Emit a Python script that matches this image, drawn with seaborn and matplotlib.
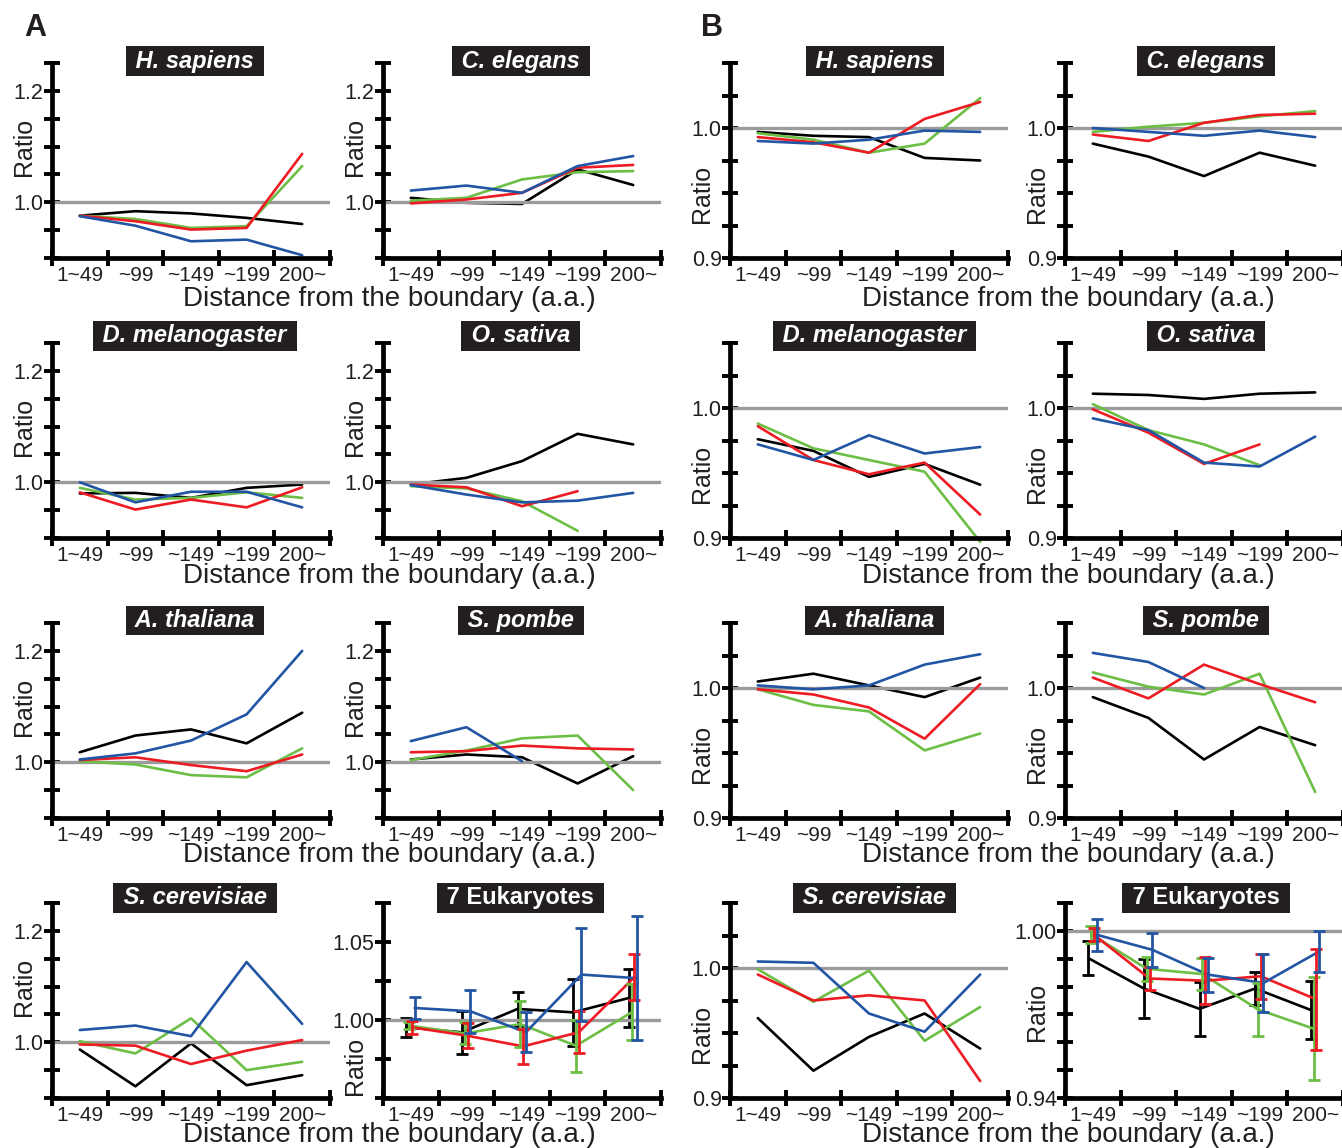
import numpy as np
import pandas as pd
import matplotlib
matplotlib.use("Agg")
import matplotlib.pyplot as plt
import seaborn as sns

NA = np.nan

CATEGORIES = ["1~49", "~99", "~149", "~199", "200~"]
SERIES = ["black", "green", "red", "blue"]
PALETTE = {"black": "#000000", "green": "#6CBE45", "red": "#ED1C24", "blue": "#2255A4"}

# ---------------- Panel A ----------------
A_H_SAPIENS = {
    "black": [0.976, 0.984, 0.980, 0.972, 0.961],
    "green": [0.976, 0.970, 0.954, 0.957, 1.065],
    "red":   [0.976, 0.966, 0.951, 0.954, 1.087],
    "blue":  [0.975, 0.958, 0.930, 0.933, 0.905],
}
A_C_ELEGANS = {
    "black": [1.008, 0.999, 0.997, 1.059, 1.031],
    "green": [1.003, 1.008, 1.041, 1.054, 1.056],
    "red":   [0.998, 1.005, 1.017, 1.062, 1.067],
    "blue":  [1.021, 1.030, 1.017, 1.065, 1.083],
}
A_D_MELANOGASTER = {
    "black": [0.980, 0.981, 0.972, 0.990, 0.996],
    "green": [0.990, 0.969, 0.972, 0.982, 0.972],
    "red":   [0.982, 0.951, 0.969, 0.955, 0.991],
    "blue":  [1.000, 0.964, 0.983, 0.983, 0.955],
}
A_O_SATIVA = {
    "black": [0.996, 1.008, 1.038, 1.087, 1.068],
    "green": [0.993, 0.989, 0.966, 0.913, NA],
    "red":   [0.996, 0.991, 0.957, 0.984, NA],
    "blue":  [0.995, 0.978, 0.964, 0.967, 0.981],
}
A_A_THALIANA = {
    "black": [1.018, 1.048, 1.059, 1.034, 1.089],
    "green": [1.002, 0.996, 0.977, 0.973, 1.025],
    "red":   [1.004, 1.009, 0.995, 0.984, 1.014],
    "blue":  [1.005, 1.016, 1.039, 1.086, 1.200],
}
A_S_POMBE = {
    "black": [1.005, 1.014, 1.009, 0.962, 1.011],
    "green": [1.004, 1.021, 1.043, 1.048, 0.950],
    "red":   [1.018, 1.020, 1.030, 1.025, 1.023],
    "blue":  [1.038, 1.063, 1.002, NA, NA],
}
A_S_CEREVISIAE = {
    "black": [0.987, 0.921, 0.998, 0.923, 0.941],
    "green": [1.002, 0.980, 1.043, 0.950, 0.965],
    "red":   [0.996, 0.994, 0.961, 0.985, 1.004],
    "blue":  [1.022, 1.030, 1.011, 1.144, 1.033],
}
A_EUK_MEAN = {
    "black": [0.9953, 0.9921, 1.0071, 1.0049, 1.0141],
    "green": [0.9964, 0.9914, 0.9974, 0.9835, 1.0049],
    "red":   [0.9953, 0.9899, 0.9831, 0.9921, 1.0274],
    "blue":  [1.0077, 1.0056, 0.9921, 1.0291, 1.0268],
}
A_EUK_ERR = {
    "black": [0.0059, 0.0139, 0.0107, 0.0214, 0.0187],
    "green": [0.0020, 0.0070, 0.0150, 0.0166, 0.0180],
    "red":   [0.0040, 0.0080, 0.0110, 0.0134, 0.0146],
    "blue":  [0.0072, 0.0139, 0.0128, 0.0297, 0.0398],
}

# ---------------- Panel B ----------------
B_H_SAPIENS = {
    "black": [0.997, 0.994, 0.993, 0.977, 0.975],
    "green": [0.996, 0.991, 0.981, 0.988, 1.023],
    "red":   [0.993, 0.989, 0.981, 1.007, 1.020],
    "blue":  [0.990, 0.988, 0.991, 0.998, 0.997],
}
B_C_ELEGANS = {
    "black": [0.988, 0.978, 0.963, 0.981, 0.971],
    "green": [0.997, 1.001, 1.004, 1.009, 1.013],
    "red":   [0.995, 0.990, 1.004, 1.010, 1.011],
    "blue":  [1.000, 0.997, 0.994, 0.998, 0.993],
}
B_D_MELANOGASTER = {
    "black": [0.976, 0.967, 0.947, 0.957, 0.941],
    "green": [0.988, 0.969, 0.960, 0.951, 0.897],
    "red":   [0.986, 0.960, 0.949, 0.958, 0.918],
    "blue":  [0.972, 0.960, 0.979, 0.965, 0.970],
}
B_O_SATIVA = {
    "black": [1.011, 1.010, 1.007, 1.011, 1.012],
    "green": [1.003, 0.983, 0.972, 0.956, NA],
    "red":   [0.999, 0.981, 0.957, 0.972, NA],
    "blue":  [0.992, 0.983, 0.958, 0.955, 0.978],
}
B_A_THALIANA = {
    "black": [1.005, 1.011, 1.002, 0.993, 1.008],
    "green": [0.999, 0.987, 0.982, 0.952, 0.965],
    "red":   [0.999, 0.995, 0.985, 0.961, 1.003],
    "blue":  [1.002, 0.999, 1.002, 1.018, 1.026],
}
B_S_POMBE = {
    "black": [0.993, 0.977, 0.945, 0.970, 0.956],
    "green": [1.012, 1.001, 0.995, 1.011, 0.920],
    "red":   [1.008, 0.992, 1.018, 1.003, 0.989],
    "blue":  [1.027, 1.020, 1.000, NA, NA],
}
B_S_CEREVISIAE = {
    "black": [0.9615, 0.921, 0.947, 0.965, 0.938],
    "green": [0.999, 0.974, 0.998, 0.944, 0.970],
    "red":   [0.995, 0.975, 0.979, 0.975, 0.913],
    "blue":  [1.005, 1.004, 0.965, 0.951, 0.995],
}
B_EUK_MEAN = {
    "black": [0.9902, 0.9793, 0.9720, 0.9793, 0.9716],
    "green": [0.9988, 0.9864, 0.9845, 0.9718, 0.9649],
    "red":   [0.9986, 0.9829, 0.9821, 0.9837, 0.9754],
    "blue":  [0.9986, 0.9932, 0.9843, 0.9813, 0.9926],
}
B_EUK_ERR = {
    "black": [0.0062, 0.0107, 0.0096, 0.0060, 0.0105],
    "green": [0.0030, 0.0043, 0.0057, 0.0094, 0.0186],
    "red":   [0.0024, 0.0040, 0.0084, 0.0080, 0.0180],
    "blue":  [0.0058, 0.0062, 0.0061, 0.0104, 0.0073],
}

TITLES = ["H. sapiens", "C. elegans", "D. melanogaster", "O. sativa",
          "A. thaliana", "S. pombe", "S. cerevisiae", "7 Eukaryotes"]

# ---------------- styling ----------------
sns.set_theme(style="ticks")
plt.rcParams["font.family"] = ["Liberation Sans", "DejaVu Sans"]
TEXT = "#231F20"
GRAY = "#9B9B9B"
DODGE = {"black": -0.08, "green": -0.03, "red": 0.02, "blue": 0.07}

W, H = 1342, 1148
fig = plt.figure(figsize=(W / 100, H / 100), dpi=100)

COL_LEFT = [52, 383, 730, 1065]          # px
ROW_BOTTOM = [258, 538, 818, 1098]       # px
AX_W, AX_H = 278, 195
TITLE_X = [0.514, 0.495, 0.52, 0.507]
TITLE_Y = [1.01, 1.036, 1.012, 1.026]


def make_axes(col, row):
    l = COL_LEFT[col] / W
    b = 1 - ROW_BOTTOM[row] / H
    return fig.add_axes([l, b, AX_W / W, AX_H / H])


def frame(values, dodge=False, errors=None):
    rows = []
    for s in SERIES:
        for i, v in enumerate(values[s]):
            if np.isnan(v):
                continue
            rows.append({"pos": i + 0.5 + (DODGE[s] if dodge else 0.0),
                         "ratio": v, "series": s,
                         "err": errors[s][i] if errors else 0.0})
    return pd.DataFrame(rows)


def style(ax, lo, hi, step, labelled, fmt, label_y):
    ax.set_xlim(0, 5)
    ax.set_ylim(lo, hi)
    ax.set_xticks(range(6))
    ax.set_xticklabels([])
    ax.set_xticks(np.arange(5) + 0.5, minor=True)
    ax.set_xticklabels(CATEGORIES, minor=True)
    ticks = np.arange(lo, hi + step / 2, step)
    ax.set_yticks(ticks)
    ax.set_yticklabels([fmt.format(t) if any(abs(t - v) < 1e-9 for v in labelled) else ""
                        for t in ticks])
    for side in ("top", "right"):
        ax.spines[side].set_visible(False)
    for side in ("left", "bottom"):
        ax.spines[side].set_linewidth(3.4)
        ax.spines[side].set_color("black")
    ax.tick_params(axis="both", which="major", direction="inout", length=12, width=2.8,
                   color="black", labelsize=15.5, labelcolor=TEXT, pad=0)
    ax.tick_params(axis="x", which="minor", length=0, labelsize=15, labelcolor=TEXT, pad=5.5)
    ax.set_xlabel("")
    ax.set_ylabel("Ratio", fontsize=18, color=TEXT, va="center")
    ax.yaxis.set_label_coords(-0.10, label_y)
    ax.set_facecolor("none")


def draw(ax, values, errors=None):
    df = frame(values, dodge=errors is not None, errors=errors)
    sns.lineplot(data=df, x="pos", y="ratio", hue="series", hue_order=SERIES,
                 palette=PALETTE, estimator=None, sort=False, errorbar=None,
                 legend=False, linewidth=1.9, ax=ax)
    for line in ax.lines:
        line.set_zorder(2.0 if line.get_color() in ("#000000", "black") else 2.4)
        line.set_clip_on(False)
    if errors is not None:
        for s in SERIES:
            sub = df[df["series"] == s]
            ax.errorbar(sub["pos"], sub["ratio"], yerr=sub["err"], fmt="none",
                        ecolor=PALETTE[s], elinewidth=2.0, capsize=4.5, capthick=2.0,
                        zorder=2.4 if s != "black" else 2.0, clip_on=False)
    ax.axhline(1.0, color=GRAY, lw=2.4, zorder=2.2)


def title(ax, text, col, row, italic=True):
    ax.text(TITLE_X[col], TITLE_Y[row], " " + text + " ", transform=ax.transAxes,
            ha="center", va="center", color="white", fontsize=17, fontweight="bold",
            fontstyle="italic" if italic else "normal", zorder=5,
            bbox=dict(facecolor=TEXT, edgecolor="none", boxstyle="square,pad=0.14"))


panel_a = [A_H_SAPIENS, A_C_ELEGANS, A_D_MELANOGASTER, A_O_SATIVA,
           A_A_THALIANA, A_S_POMBE, A_S_CEREVISIAE]
panel_b = [B_H_SAPIENS, B_C_ELEGANS, B_D_MELANOGASTER, B_O_SATIVA,
           B_A_THALIANA, B_S_POMBE, B_S_CEREVISIAE]

for idx in range(8):
    row, c = divmod(idx, 2)
    # panel A
    ax = make_axes(c, row)
    if idx < 7:
        draw(ax, panel_a[idx])
        style(ax, 0.9, 1.25, 0.05, [1.0, 1.2], "{:.1f}", 0.57)
        title(ax, TITLES[idx], c, row)
    else:
        draw(ax, A_EUK_MEAN, A_EUK_ERR)
        style(ax, 0.95, 1.075, 0.025, [1.0, 1.05], "{:.2f}", 0.165)
        title(ax, TITLES[idx], c, row, italic=False)
    # panel B
    ax = make_axes(c + 2, row)
    if idx < 7:
        draw(ax, panel_b[idx])
        style(ax, 0.9, 1.05, 0.025, [0.9, 1.0], "{:.1f}", 0.33)
        title(ax, TITLES[idx], c + 2, row)
    else:
        draw(ax, B_EUK_MEAN, B_EUK_ERR)
        style(ax, 0.94, 1.01, 0.01, [0.94, 1.0], "{:.2f}", 0.44)
        title(ax, TITLES[idx], c + 2, row, italic=False)

# shared x-axis captions and panel letters
for row, yc in enumerate([299, 576, 855, 1135]):
    for xc in (389, 1068):
        fig.text(xc / W, 1 - yc / H, "Distance from the boundary (a.a.)",
                 ha="center", va="center", fontsize=20, color=TEXT)
fig.text(35 / W, 1 - 28 / H, "A", ha="center", va="center", fontsize=22,
         fontweight="bold", color=TEXT)
fig.text(712 / W, 1 - 28 / H, "B", ha="center", va="center", fontsize=22,
         fontweight="bold", color=TEXT)

fig.savefig("out.png", dpi=100, facecolor="white")
